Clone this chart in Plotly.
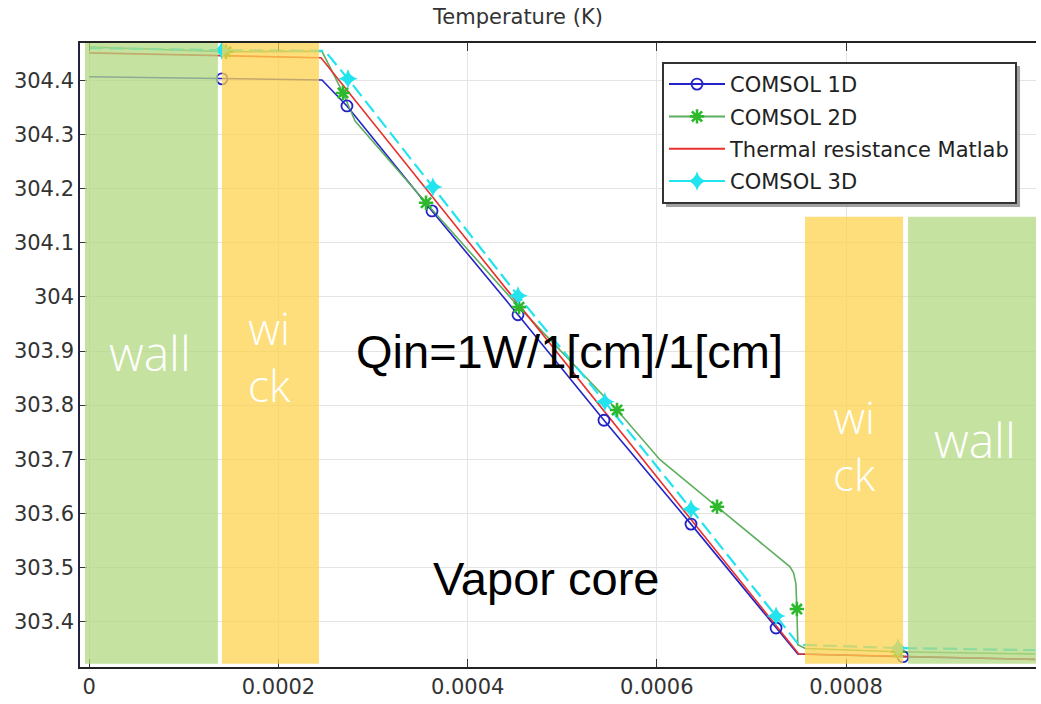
import plotly.graph_objects as go

# Temperature profile across the heat-pipe cross section (wall / wick / vapor core / wick / wall)

# COMSOL 1D
x_1d = [0, 0.0001403, 0.000246, 0.0002724, 0.0003623, 0.0004532, 0.0005441,
        0.0006361, 0.000726, 0.000749, 0.0008602, 0.001]
t_1d = [304.407, 304.403, 304.401, 304.353, 304.159, 303.967, 303.772,
        303.580, 303.388, 303.340, 303.335, 303.330]
marks_1d = [1, 3, 4, 5, 6, 7, 8, 10]

# COMSOL 2D
x_2d = [0, 0.0001445, 0.000246, 0.0002682, 0.000281, 0.000356, 0.0004543,
        0.0005579, 0.0006033, 0.0006636, 0.000720, 0.0007408, 0.0007445,
        0.0007470, 0.0007480, 0.0007490, 0.000757, 0.000855, 0.001]
t_2d = [304.462, 304.453, 304.454, 304.377, 304.325, 304.174, 303.981,
        303.791, 303.699, 303.612, 303.532, 303.501, 303.490,
        303.470, 303.423, 303.357, 303.350, 303.344, 303.340]
marks_2d = [1, 3, 5, 6, 7, 9, 14, 17]

# Thermal resistance model (Matlab)
x_tr = [0, 0.000136, 0.000245, 0.00075, 0.000865, 0.001]
t_tr = [304.451, 304.446, 304.442, 303.340, 303.336, 303.330]

# COMSOL 3D
x_3d = [0, 0.0001403, 0.000249, 0.0002735, 0.0003633, 0.0004532, 0.000545,
        0.0006361, 0.000726, 0.000750, 0.000855, 0.001]
t_3d = [304.460, 304.456, 304.455, 304.403, 304.203, 304.002, 303.806,
        303.608, 303.410, 303.357, 303.351, 303.347]
marks_3d = [1, 3, 4, 5, 6, 7, 8, 10]

x_ticks = [0, 0.0002, 0.0004, 0.0006, 0.0008]
y_ticks = [303.4, 303.5, 303.6, 303.7, 303.8, 303.9, 304.0, 304.1, 304.2, 304.3, 304.4]

BLUE = "#2323c8"
GREEN_LINE = "#5fae5f"
GREEN_MARK = "#2eb82e"
RED = "#e8302c"
CYAN = "#22e4ef"

fig = go.Figure()


def pick(vals, idx):
    return [vals[i] for i in idx]


# main lines
fig.add_trace(go.Scatter(x=x_1d, y=t_1d, mode="lines", line=dict(color=BLUE, width=1.6),
                         showlegend=False, legendgroup="1d"))
fig.add_trace(go.Scatter(x=x_2d, y=t_2d, mode="lines", line=dict(color=GREEN_LINE, width=1.6),
                         showlegend=False, legendgroup="2d"))
fig.add_trace(go.Scatter(x=x_tr, y=t_tr, mode="lines", line=dict(color=RED, width=1.6),
                         showlegend=False, legendgroup="tr"))
fig.add_trace(go.Scatter(x=x_3d, y=t_3d, mode="lines",
                         line=dict(color=CYAN, width=2.2, dash="14px,6px"),
                         showlegend=False, legendgroup="3d"))

# markers
mk_1d = dict(symbol="circle-open", size=11, color=BLUE, line=dict(width=1.8, color=BLUE))
mk_2d = dict(symbol="asterisk-open", size=12, color=GREEN_MARK, line=dict(width=2.6, color=GREEN_MARK))
mk_3d = dict(symbol="star-diamond", size=14, color=CYAN, line=dict(width=0, color=CYAN))

fig.add_trace(go.Scatter(x=pick(x_1d, marks_1d), y=pick(t_1d, marks_1d), mode="markers",
                         marker=mk_1d, showlegend=False, legendgroup="1d"))
fig.add_trace(go.Scatter(x=pick(x_2d, marks_2d), y=pick(t_2d, marks_2d), mode="markers",
                         marker=mk_2d, showlegend=False, legendgroup="2d"))
fig.add_trace(go.Scatter(x=pick(x_3d, marks_3d), y=pick(t_3d, marks_3d), mode="markers",
                         marker=mk_3d, showlegend=False, legendgroup="3d"))

# legend entries
fig.add_trace(go.Scatter(x=[None], y=[None], mode="lines+markers", name="COMSOL 1D",
                         line=dict(color=BLUE, width=2), marker=mk_1d, legendgroup="1d"))
fig.add_trace(go.Scatter(x=[None], y=[None], mode="lines+markers", name="COMSOL 2D",
                         line=dict(color=GREEN_LINE, width=2), marker=mk_2d, legendgroup="2d"))
fig.add_trace(go.Scatter(x=[None], y=[None], mode="lines", name="Thermal resistance Matlab",
                         line=dict(color=RED, width=2), legendgroup="tr"))
fig.add_trace(go.Scatter(x=[None], y=[None], mode="lines+markers", name="COMSOL 3D",
                         line=dict(color=CYAN, width=2), marker=mk_3d, legendgroup="3d"))

WALL = "#b1d880"
WICK = "#fcd34e"
Y_LO, Y_HI = 303.322, 304.4693
Y_RIGHT_TOP = 304.148

shapes = [
    dict(type="rect", xref="x", yref="y", x0=-0.0000046, x1=0.000136, y0=Y_LO, y1=Y_HI,
         fillcolor=WALL, opacity=0.75, line=dict(width=0), layer="above"),
    dict(type="rect", xref="x", yref="y", x0=0.0001403, x1=0.0002428, y0=Y_LO, y1=Y_HI,
         fillcolor=WICK, opacity=0.75, line=dict(width=0), layer="above"),
    dict(type="rect", xref="x", yref="y", x0=0.0007566, x1=0.0008603, y0=Y_LO, y1=Y_RIGHT_TOP,
         fillcolor=WICK, opacity=0.75, line=dict(width=0), layer="above"),
    dict(type="rect", xref="x", yref="y", x0=0.0008656, x1=0.0010008, y0=Y_LO, y1=Y_RIGHT_TOP,
         fillcolor=WALL, opacity=0.75, line=dict(width=0), layer="above"),
    # legend drop shadow
    dict(type="rect", xref="paper", yref="paper", x0=0.6130, x1=0.9833, y0=0.7372, y1=0.9631,
         fillcolor="#8a8a8a", opacity=0.8, line=dict(width=0), layer="above"),
]

wall_font = dict(family="Open Sans", size=48, color="white", weight=300)
wick_font = dict(family="Open Sans", size=44, color="white", weight=300)
big_font = dict(family="Liberation Sans", size=47, color="black")

annotations = [
    dict(text="wall", x=0.0000642, y=303.897, xref="x", yref="y", showarrow=False, font=wall_font),
    dict(text="wi<br>ck", x=0.000190, y=303.889, xref="x", yref="y", showarrow=False, font=wick_font),
    dict(text="wi<br>ck", x=0.000809, y=303.726, xref="x", yref="y", showarrow=False, font=wick_font),
    dict(text="wall", x=0.000936, y=303.737, xref="x", yref="y", showarrow=False, font=wall_font),
    dict(text="Qin=1W/1[cm]/1[cm]", x=0.000508, y=303.900, xref="x", yref="y", showarrow=False, font=big_font),
    dict(text="Vapor core", x=0.000483, y=303.479, xref="x", yref="y", showarrow=False, font=big_font),
    dict(text="Temperature (K)", x=0.4575, y=1.0, xref="paper", yref="paper", yanchor="bottom",
         yshift=12, showarrow=False, font=dict(family="DejaVu Sans", size=21, color="#333333")),
]

axis_font = dict(family="DejaVu Sans", size=21, color="#333333")

fig.update_layout(
    width=1041, height=704,
    margin=dict(l=80, r=5, t=43, b=37),
    paper_bgcolor="white", plot_bgcolor="white",
    shapes=shapes, annotations=annotations,
    legend=dict(x=0.6088, y=0.9696, xanchor="left", yanchor="top",
                bgcolor="white", bordercolor="#333333", borderwidth=2,
                font=dict(family="DejaVu Sans", size=21, color="#222222"),
                tracegroupgap=2, itemwidth=56),
    xaxis=dict(range=[-0.0000098, 0.0010008], tickvals=x_ticks, tickformat=".4~f",
               ticks="inside", ticklen=8, tickcolor="#333333", tickwidth=1.2,
               showline=True, linecolor="#222222", linewidth=1.6, mirror="ticks",
               showgrid=True, gridcolor="#e4e4e4", gridwidth=1, zeroline=False,
               tickfont=axis_font),
    yaxis=dict(range=[303.3159, 304.4693], tickvals=y_ticks, tickformat=".1~f",
               ticks="inside", ticklen=7, tickcolor="#333333", tickwidth=1.2,
               showline=True, linecolor="#222244", linewidth=1.6,
               showgrid=True, gridcolor="#e4e4e4", gridwidth=1, zeroline=False,
               tickfont=axis_font),
)

fig.write_html("out.html")
